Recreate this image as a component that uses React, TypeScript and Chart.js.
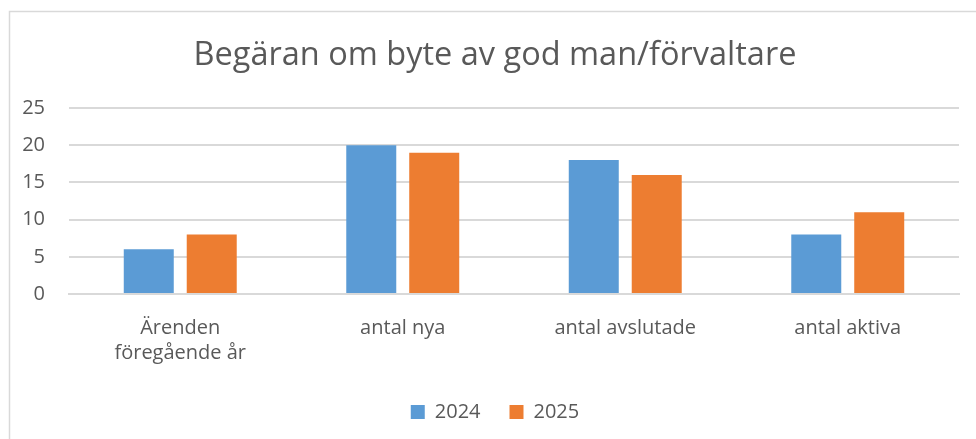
import React, { useEffect, useRef } from "react";
import { Chart, registerables } from "chart.js";

Chart.register(...registerables);

const categories: (string | string[])[] = [["Ärenden", "föregående år"], "antal nya", "antal avslutade", "antal aktiva"];
const series2024 = [6, 20, 18, 8];
const series2025 = [8, 19, 16, 11];
const yTicks = [0, 5, 10, 15, 20, 25];
const title = "Begäran om byte av god man/förvaltare";

const FONT = "Open Sans, Lato, sans-serif";
const TEXT = "#595959";
const CW = 990;
const CH = 439;

const borderPlugin = {
  id: "outerBorder",
  beforeLayout(chart: any) {
    const lg = chart.legend;
    if (lg && !lg._patched) {
      const orig = lg.fit.bind(lg);
      lg.fit = function () {
        orig();
        this.height = 52;
      };
      lg._patched = true;
    }
  },
  beforeDraw(chart: any) {
    const ctx = chart.ctx;
    ctx.save();
    ctx.fillStyle = "#ffffff";
    ctx.fillRect(0, 0, chart.width, chart.height);
    ctx.strokeStyle = "#d9d9d9";
    ctx.lineWidth = 1.5;
    ctx.strokeRect(9.5, 11.5, chart.width + 20, chart.height + 20);
    ctx.restore();
  },
};

export default function App() {
  const ref = useRef<HTMLCanvasElement>(null);
  useEffect(() => {
    const chart = new Chart(ref.current!, {
      type: "bar",
      data: {
        labels: categories,
        datasets: [
          { label: "2024", data: series2024, backgroundColor: "#5B9BD5" },
          { label: "2025", data: series2025, backgroundColor: "#ED7D31" },
        ],
      },
      plugins: [borderPlugin],
      options: {
        animation: false,
        responsive: false,
        maintainAspectRatio: false,
        datasets: { bar: { categoryPercentage: 0.566, barPercentage: 0.794 } },
        layout: { padding: { left: 0, right: 0, top: 36, bottom: 14 } },
        plugins: {
          title: {
            display: true,
            text: title,
            color: TEXT,
            font: { family: FONT, size: 32.5, weight: "normal", lineHeight: 1.2 },
            padding: { top: 0, bottom: 33 },
          },
          legend: {
            position: "bottom",
            labels: {
              color: TEXT,
              font: { family: FONT, size: 20 },
              boxWidth: 14,
              boxHeight: 14,
              padding: 29,
            },
          },
          tooltip: { enabled: false },
        },
        scales: {
          x: {
            afterFit: (s: any) => { s.height = 79; },
            grid: { display: false, drawTicks: false },
            border: { display: true, color: "#d9d9d9", width: 2 },
            ticks: { color: TEXT, font: { family: FONT, size: 20, lineHeight: 1.25 }, padding: 22, maxRotation: 0, autoSkip: false },
          },
          y: {
            min: 0,
            max: 25,
            afterBuildTicks: (s: any) => { s.ticks = yTicks.map((v) => ({ value: v })); },
            afterFit: (s: any) => { s.width = 69; },
            grid: { color: "#d9d9d9", lineWidth: 2, drawTicks: false },
            border: { display: false },
            ticks: { color: TEXT, font: { family: FONT, size: 20 }, padding: 24 },
          },
          yRight: {
            position: "right",
            min: 0,
            max: 25,
            afterFit: (s: any) => { s.width = 31; },
            grid: { display: false, drawTicks: false },
            border: { display: false },
            ticks: { display: false },
          },
        },
      },
    });
    return () => chart.destroy();
  }, []);
  return (
    <div style={{ position: "absolute", left: 0, top: 0, width: 976, height: CH, overflow: "hidden" }}>
      <canvas ref={ref} width={CW} height={CH} style={{ width: CW, height: CH, display: "block" }} />
    </div>
  );
}
